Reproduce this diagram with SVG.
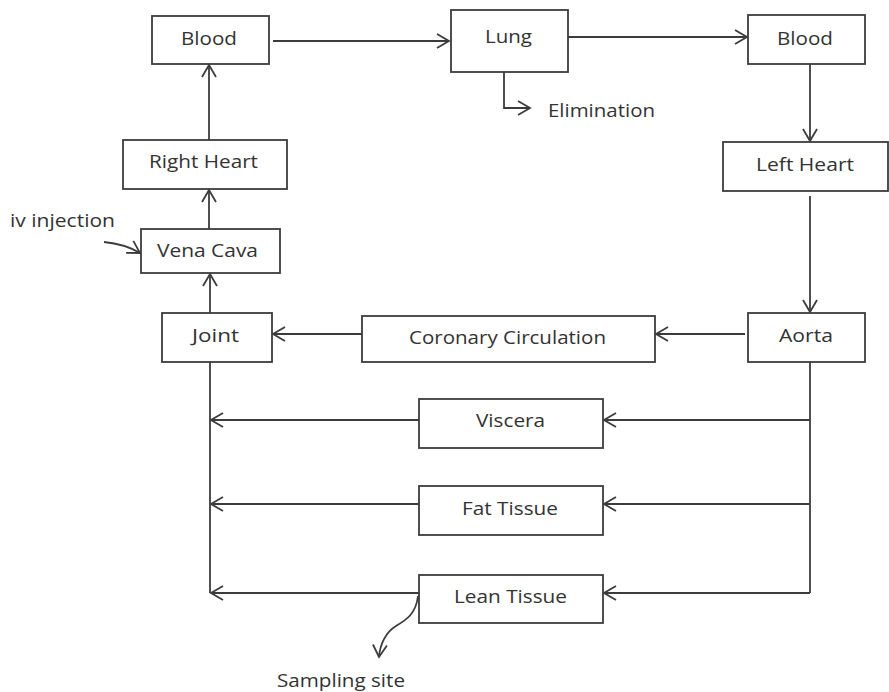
<svg xmlns="http://www.w3.org/2000/svg" width="889" height="692" viewBox="0 0 889 692">
<defs>
<style>
.box{fill:#fff;stroke:#3c3c3c;stroke-width:1.8}
.ln{fill:none;stroke:#3c3c3c;stroke-width:1.8}
.ar{marker-end:url(#arr)}
text{font-family:"Open Sans","Liberation Sans",sans-serif;font-size:19px;fill:#333}
</style>
<marker id="arr" viewBox="0 0 14 16" refX="13" refY="8" markerWidth="14" markerHeight="16" markerUnits="userSpaceOnUse" orient="auto" overflow="visible">
<path d="M1,1 L13,8 L1,15" fill="none" stroke="#3c3c3c" stroke-width="1.8"/>
</marker>
</defs>
<rect width="889" height="692" fill="#fff"/>
<g id="connectors">
<line class="ln ar" x1="273" y1="41" x2="449" y2="41"/>
<line class="ln ar" x1="568" y1="37" x2="747" y2="37"/>
<polyline class="ln ar" points="504,72 504,108 530,108"/>
<line class="ln ar" x1="810" y1="64" x2="810" y2="141"/>
<line class="ln ar" x1="810" y1="196" x2="810" y2="312"/>
<line class="ln ar" x1="745" y1="334" x2="656" y2="334"/>
<line class="ln ar" x1="362" y1="334" x2="273" y2="334"/>
<line class="ln ar" x1="210" y1="313" x2="210" y2="274"/>
<line class="ln ar" x1="209" y1="229" x2="209" y2="190"/>
<line class="ln ar" x1="209" y1="140" x2="209" y2="65"/>
<path class="ln ar" d="M104,242 Q125,244 140,253"/>
<line class="ln" x1="210" y1="362" x2="210" y2="593"/>
<line class="ln" x1="810" y1="362" x2="810" y2="593"/>
<line class="ln ar" x1="810" y1="420" x2="604" y2="420"/>
<line class="ln ar" x1="810" y1="504" x2="604" y2="504"/>
<line class="ln ar" x1="810" y1="593" x2="604" y2="593"/>
<line class="ln ar" x1="419" y1="420" x2="211" y2="420"/>
<line class="ln ar" x1="419" y1="504" x2="211" y2="504"/>
<line class="ln ar" x1="419" y1="593" x2="211" y2="593"/>
<path class="ln ar" d="M418,596 C416,614 406,620 396,626 C386,632 380,644 379,657"/>
</g>
<g id="blood1"><rect class="box" x="152" y="16" width="117" height="48"/><text x="181" y="45" textLength="56" lengthAdjust="spacingAndGlyphs">Blood</text></g>
<g id="lung"><rect class="box" x="451" y="10" width="117" height="62"/><text x="485" y="43" textLength="47" lengthAdjust="spacingAndGlyphs">Lung</text></g>
<g id="blood2"><rect class="box" x="748" y="15" width="117" height="49"/><text x="777" y="45" textLength="56" lengthAdjust="spacingAndGlyphs">Blood</text></g>
<g id="elimination"><text x="548" y="117" textLength="107" lengthAdjust="spacingAndGlyphs">Elimination</text></g>
<g id="leftheart"><rect class="box" x="723" y="142" width="165" height="49"/><text x="756" y="171" textLength="98" lengthAdjust="spacingAndGlyphs">Left Heart</text></g>
<g id="aorta"><rect class="box" x="748" y="313" width="117" height="49"/><text x="779" y="342" textLength="54" lengthAdjust="spacingAndGlyphs">Aorta</text></g>
<g id="coronary"><rect class="box" x="362" y="316" width="293" height="46"/><text x="409" y="344" textLength="197" lengthAdjust="spacingAndGlyphs">Coronary Circulation</text></g>
<g id="joint"><rect class="box" x="162" y="313" width="110" height="49"/><text x="192" y="342" textLength="47" lengthAdjust="spacingAndGlyphs">Joint</text></g>
<g id="venacava"><rect class="box" x="141" y="229" width="139" height="44"/><text x="157" y="257" textLength="101" lengthAdjust="spacingAndGlyphs">Vena Cava</text></g>
<g id="rightheart"><rect class="box" x="123" y="140" width="164" height="49"/><text x="149" y="168" textLength="109" lengthAdjust="spacingAndGlyphs">Right Heart</text></g>
<g id="ivinjection"><text x="10" y="227" textLength="105" lengthAdjust="spacingAndGlyphs">iv injection</text></g>
<g id="viscera"><rect class="box" x="419" y="399" width="184" height="49"/><text x="476" y="427" textLength="69" lengthAdjust="spacingAndGlyphs">Viscera</text></g>
<g id="fattissue"><rect class="box" x="419" y="486" width="184" height="49"/><text x="462" y="515" textLength="96" lengthAdjust="spacingAndGlyphs">Fat Tissue</text></g>
<g id="leantissue"><rect class="box" x="419" y="575" width="184" height="48"/><text x="454" y="603" textLength="113" lengthAdjust="spacingAndGlyphs">Lean Tissue</text></g>
<g id="sampling"><text x="277" y="687" textLength="128" lengthAdjust="spacingAndGlyphs">Sampling site</text></g>
</svg>
